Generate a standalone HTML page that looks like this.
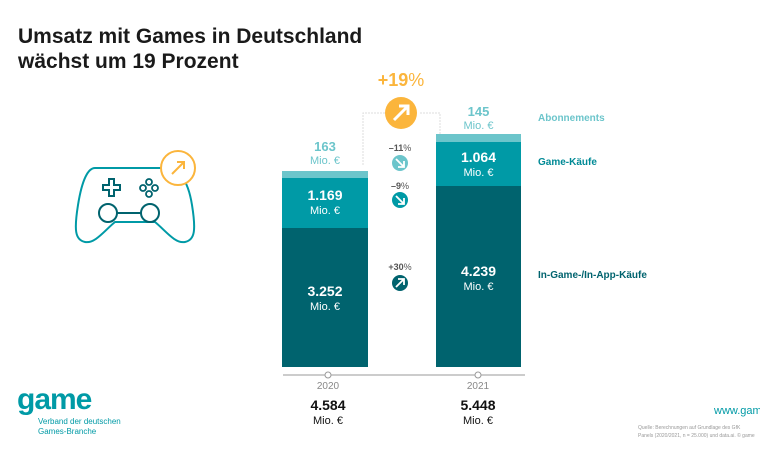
<!DOCTYPE html>
<html><head><meta charset="utf-8"><style>
body{margin:0;width:760px;height:460px;background:#fff;position:relative;overflow:hidden;font-family:"Liberation Sans",sans-serif}
.a{position:absolute}
.c{text-align:center}
</style></head><body>
<div class="a" style="left:18px;top:24px;font-size:21px;font-weight:bold;color:#1a1a1a;line-height:25px">Umsatz mit Games in Deutschland<br>wächst um 19 Prozent</div>

<svg class="a" style="left:0;top:0" width="760" height="460">
 <rect x="282" y="171" width="86" height="7" fill="#6cc5cb"/>
 <rect x="282" y="178" width="86" height="50" fill="#009aa6"/>
 <rect x="282" y="228" width="86" height="139" fill="#00636e"/>
 <rect x="436" y="134" width="85" height="8" fill="#6cc5cb"/>
 <rect x="436" y="142" width="85" height="44" fill="#009aa6"/>
 <rect x="436" y="186" width="85" height="181" fill="#00636e"/>
 <polyline points="363,165 363,113 385,113" fill="none" stroke="#ddd" stroke-width="1" stroke-dasharray="2,1"/>
 <polyline points="420,113 440,113 440,134" fill="none" stroke="#ddd" stroke-width="1" stroke-dasharray="2,1"/>
 <circle cx="401" cy="113" r="16" fill="#fbb53c"/>
 <path d="M394 120 L408 106 M399 106 H408 V115" stroke="#fff" stroke-width="3" fill="none"/>
 <circle cx="400" cy="163" r="8" fill="#6cc5cb"/>
 <path d="M396 159 L404 167 M404 161 V167 H398" stroke="#fff" stroke-width="1.8" fill="none"/>
 <circle cx="400" cy="200" r="8" fill="#009aa6"/>
 <path d="M396 196 L404 204 M404 198 V204 H398" stroke="#fff" stroke-width="1.8" fill="none"/>
 <circle cx="400" cy="283" r="8" fill="#00636e"/>
 <path d="M396 287 L404 279 M398 279 H404 V285" stroke="#fff" stroke-width="1.8" fill="none"/>
 <line x1="283" y1="375" x2="525" y2="375" stroke="#999" stroke-width="1"/>
 <circle cx="328" cy="375" r="3" fill="#fff" stroke="#999"/>
 <circle cx="478" cy="375" r="3" fill="#fff" stroke="#999"/>
 <path d="M95 168 H160 C180 168 188 180 192 205 C196 230 195 240 185 242 C175 244 165 230 155 222 H115 C105 230 95 244 85 242 C75 240 74 230 78 205 C82 180 88 168 95 168 Z" fill="none" stroke="#009aa6" stroke-width="2"/>
 <path d="M103 185 h6 v-6 h5 v6 h6 v5 h-6 v6 h-5 v-6 h-6 z" fill="none" stroke="#00636e" stroke-width="2"/>
 <circle cx="149" cy="182" r="3" fill="none" stroke="#00636e" stroke-width="1.8"/>
 <circle cx="143" cy="188" r="3" fill="none" stroke="#00636e" stroke-width="1.8"/>
 <circle cx="155" cy="188" r="3" fill="none" stroke="#00636e" stroke-width="1.8"/>
 <circle cx="149" cy="194" r="3" fill="none" stroke="#00636e" stroke-width="1.8"/>
 <line x1="117" y1="213" x2="142" y2="213" stroke="#00636e" stroke-width="2"/>
 <circle cx="108" cy="213" r="9" fill="#fff" stroke="#00636e" stroke-width="2"/>
 <circle cx="150" cy="213" r="9" fill="#fff" stroke="#00636e" stroke-width="2"/>
 <circle cx="178" cy="168" r="17" fill="#fff" stroke="#fbb53c" stroke-width="2"/>
 <path d="M172 174 L184 162 M177 162 H184 V169" stroke="#fbb53c" stroke-width="2" fill="none"/>
</svg>

<div class="a c" style="left:365px;top:70px;width:72px;font-size:18px;font-weight:bold;color:#fbb53c">+19<span style="font-weight:normal">%</span></div>
<div class="a c" style="left:380px;top:143px;width:40px;font-size:9px;color:#555;font-weight:bold">–11<span style="font-weight:normal">%</span></div>
<div class="a c" style="left:380px;top:181px;width:40px;font-size:9px;color:#555;font-weight:bold">–9<span style="font-weight:normal">%</span></div>
<div class="a c" style="left:380px;top:262px;width:40px;font-size:9px;color:#555;font-weight:bold">+30<span style="font-weight:normal">%</span></div>

<div class="a c" style="left:282px;top:140px;width:86px;color:#6cc5cb;line-height:13px"><b style="font-size:13px">163</b><br><span style="font-size:11px">Mio. €</span></div>
<div class="a c" style="left:436px;top:105px;width:85px;color:#6cc5cb;line-height:13px"><b style="font-size:13px">145</b><br><span style="font-size:11px">Mio. €</span></div>
<div class="a c" style="left:282px;top:188px;width:86px;color:#fff;line-height:14px"><b style="font-size:14px">1.169</b><br><span style="font-size:11px">Mio. €</span></div>
<div class="a c" style="left:436px;top:150px;width:85px;color:#fff;line-height:14px"><b style="font-size:14px">1.064</b><br><span style="font-size:11px">Mio. €</span></div>
<div class="a c" style="left:282px;top:284px;width:86px;color:#fff;line-height:14px"><b style="font-size:14px">3.252</b><br><span style="font-size:11px">Mio. €</span></div>
<div class="a c" style="left:436px;top:264px;width:85px;color:#fff;line-height:14px"><b style="font-size:14px">4.239</b><br><span style="font-size:11px">Mio. €</span></div>

<div class="a" style="left:538px;top:113px;font-size:10px;font-weight:bold;color:#6cc5cb">Abonnements</div>
<div class="a" style="left:538px;top:157px;font-size:10px;font-weight:bold;color:#008a96">Game-Käufe</div>
<div class="a" style="left:538px;top:270px;font-size:10px;font-weight:bold;color:#00636e">In-Game-/In-App-Käufe</div>

<div class="a c" style="left:298px;top:381px;width:60px;font-size:10px;color:#888">2020</div>
<div class="a c" style="left:448px;top:381px;width:60px;font-size:10px;color:#888">2021</div>
<div class="a c" style="left:293px;top:398px;width:70px;color:#111;line-height:14px"><b style="font-size:14px">4.584</b><br><span style="font-size:11px">Mio. €</span></div>
<div class="a c" style="left:443px;top:398px;width:70px;color:#111;line-height:14px"><b style="font-size:14px">5.448</b><br><span style="font-size:11px">Mio. €</span></div>

<div class="a" style="left:17px;top:385px;font-size:30px;font-weight:bold;color:#009aa6;letter-spacing:-1px;line-height:30px">game</div>
<div class="a" style="left:38px;top:417px;font-size:8px;color:#009aa6;line-height:10px">Verband der deutschen<br>Games-Branche</div>
<div class="a" style="left:714px;top:405px;font-size:11px;color:#009aa6;white-space:nowrap">www.game.de</div>
<div class="a" style="left:638px;top:424px;font-size:5px;color:#999;line-height:8px;white-space:nowrap">Quelle: Berechnungen auf Grundlage des GfK<br>Panels (2020/2021, n = 25.000) und data.ai. © game</div>
</body></html>
